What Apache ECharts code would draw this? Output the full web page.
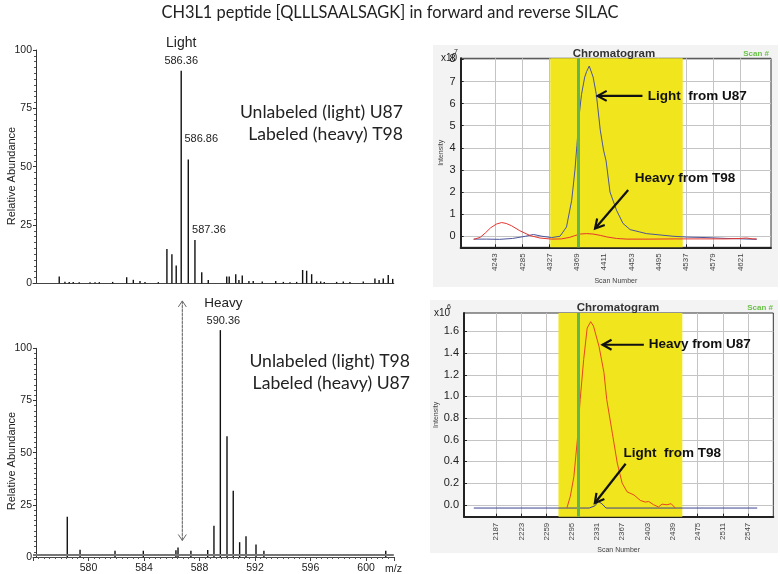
<!DOCTYPE html>
<html><head><meta charset="utf-8">
<script src="https://cdn.jsdelivr.net/npm/echarts@6/dist/echarts.min.js"></script>
<style>html,body{margin:0;padding:0;background:#fff}#c{width:780px;height:574px}</style>
</head><body><div id="c"></div>
<script>
// ---------------- data ----------------
const titleText = 'CH3L1 peptide [QLLLSAALSAGK] in forward and reverse SILAC';
// forward SILAC spectrum (top-left)
const lightMz = [577.89,578.30,578.61,578.90,579.33,580.11,580.47,580.78,581.74,582.75,583.23,583.71,584.07,585.03,585.65,586.01,586.32,586.68,587.19,587.67,588.16,588.63,589.96,590.14,590.61,590.84,591.08,591.56,591.87,592.52,593.49,594.04,594.52,595.00,595.43,595.72,596.08,596.44,596.73,596.99,597.88,598.36,598.84,599.80,600.64,600.94,601.24,601.60,601.92];
const lightAb = [2.9,0.7,0.6,0.6,0.5,0.5,0.5,0.5,0.6,2.6,1.5,1.0,0.6,0.5,14.7,12.4,7.6,91.1,53.1,18.6,4.7,1.4,2.9,2.9,3.9,1.4,3.3,1.0,1.0,0.8,1.0,0.6,0.5,0.6,5.7,5.4,3.9,0.8,0.8,0.6,0.6,0.8,0.6,0.8,2.1,1.4,2.1,3.6,1.9];
const lightLabelMz = [586.68, 587.19, 587.67];
const lightLabelText = ['586.36', '586.86', '587.36'];
// reverse SILAC spectrum (bottom-left)
const heavyMz = [578.47,579.39,581.91,583.95,586.30,586.45,587.38,588.59,589.04,589.50,589.98,590.43,590.89,591.35,592.07,592.64,601.42];
const heavyAb = [19.3,3.5,3.0,3.0,3.2,4.6,3.0,3.3,15.0,108.7,57.9,31.7,7.1,10.0,6.0,3.0,3.0];
const heavyLabelMz = [589.50];
const heavyLabelText = ['590.36'];
const heavyBaseline = 1.2;
const lightPeakArrowMz = 586.76;
const mzTicks = [580, 584, 588, 592, 596, 600];
const abundTicks = [0, 25, 50, 75, 100];
// chromatogram top-right (x10^7)
const topLightScan = [4210,4230,4250,4270,4290,4302,4315,4330,4343,4353,4361,4366,4369,4373,4376,4381,4384,4388,4390,4394,4399,4405,4410,4414,4420,4430,4440,4451,4465,4476,4500,4517,4540,4568,4600,4625,4646];
const topLightInt = [-0.13,-0.13,-0.14,-0.1,0.0,0.08,0.0,-0.06,0.0,0.42,1.63,3.0,4.1,5.6,6.4,7.2,7.45,7.7,7.73,7.2,6.4,4.8,3.9,3.4,2.0,1.18,0.58,0.3,0.2,0.12,0.05,0.0,-0.04,-0.06,-0.1,-0.12,-0.14];
const topHeavyScan = [4210,4220,4228,4236,4245,4253,4260,4268,4281,4297,4312,4330,4345,4358,4365,4374,4384,4394,4405,4415,4430,4446,4480,4520,4560,4600,4620,4630,4640,4646];
const topHeavyInt = [-0.14,-0.05,0.15,0.38,0.55,0.62,0.58,0.48,0.25,0.03,-0.08,-0.13,-0.12,-0.05,0.02,0.1,0.12,0.1,0.04,-0.03,-0.1,-0.13,-0.13,-0.12,-0.12,-0.12,-0.1,-0.08,-0.12,-0.12];
const topScanTicks = [4243,4285,4327,4369,4411,4453,4495,4537,4579,4621];
const topIntTicks = [0,1,2,3,4,5,6,7,8];
const topBand = [4328, 4532];
const topMarker = 4371.5;
// chromatogram bottom-right (x10^6)
const botHeavyScan = [2288,2293,2298,2303,2307,2312,2317,2322,2326,2334,2341,2345,2353,2360,2367,2374,2384,2393,2400,2405,2412,2419,2424,2431,2437,2443];
const botHeavyInt = [-0.03,0.08,0.26,0.6,0.97,1.34,1.63,1.69,1.65,1.46,1.22,0.97,0.66,0.385,0.2,0.12,0.09,0.04,0.025,0.03,0.0,-0.02,0.006,0.0,0.01,-0.03];
const botLightScan = [2155,2320,2328,2333,2338,2344,2560];
const botLightInt = [-0.03,-0.03,-0.01,0.03,0.01,-0.03,-0.03];
const botScanTicks = [2187,2223,2259,2295,2331,2367,2403,2439,2475,2511,2547];
const botIntTicks = [0,0.2,0.4,0.6,0.8,1.0,1.2,1.4,1.6];
const botBand = [2276, 2453];
const botMarker = 2304;

// ---------------- chart ----------------
const AF = '"Liberation Sans", Arial, sans-serif';
const CF = 'Lato, "Open Sans", sans-serif';
const chart = echarts.init(document.getElementById('c'), null, {renderer: 'canvas', width: 780, height: 574});
const pairs = (xs, ys) => xs.map((x, i) => [x, ys[i]]);

const lightLabelStyles = [
  {distance: 3, offset: [0, 0], formatter: '{a|Light}\n{b|' + lightLabelText[0] + '}'},
  {distance: 3, offset: [13, -12], formatter: lightLabelText[1]},
  {distance: 3, offset: [14, -1], formatter: lightLabelText[2]}
];
const labelRich = {
  a: {fontSize: 14, lineHeight: 21, fontFamily: AF, color: '#222'},
  b: {fontSize: 11, lineHeight: 14, fontFamily: AF, color: '#222'}
};
const lightData = lightMz.map((m, i) => {
  const item = {value: [m, lightAb[i]]};
  const k = lightLabelMz.indexOf(m);
  if (k >= 0) {
    item.label = Object.assign({show: true, position: 'top', fontSize: 11, fontFamily: AF, color: '#222', rich: labelRich}, lightLabelStyles[k]);
  }
  return item;
});
const heavyData = heavyMz.map((m, i) => {
  const item = {value: [m, heavyAb[i]]};
  const k = heavyLabelMz.indexOf(m);
  if (k >= 0) {
    item.label = {show: true, position: 'top', distance: 2, offset: [3, 0], formatter: '{a|Heavy}\n{b|' + heavyLabelText[k] + '}',
      rich: {a: {fontSize: 13.5, lineHeight: 22, fontFamily: AF, color: '#222'}, b: {fontSize: 11, lineHeight: 14, fontFamily: AF, color: '#222'}}};
  }
  return item;
});

function specY(gi) {
  return {
    gridIndex: gi, type: 'value', min: 0, max: 100, interval: 25, offset: -3,
    axisLine: {show: true, lineStyle: {color: '#333', width: 1}},
    axisTick: {show: true, length: 3, lineStyle: {color: '#333'}},
    minorTick: {show: true, splitNumber: 10, length: 2, lineStyle: {color: '#555'}},
    axisLabel: {fontSize: 10.5, color: '#222', fontFamily: AF, margin: 4},
    splitLine: {show: false}
  };
}
function chromX(gi, min, max, ticks) {
  return {
    gridIndex: gi, type: 'value', min: min, max: max,
    axisLine: {show: true, onZero: false, lineStyle: {color: '#222', width: 2}},
    axisTick: {show: true, inside: true, length: 3, customValues: ticks, lineStyle: {color: '#222'}},
    axisLabel: {customValues: ticks, rotate: 90, fontSize: 8, color: '#444', fontFamily: AF, margin: 6, formatter: v => String(Math.round(v))},
    splitLine: {show: true, lineStyle: {color: '#c4c4c4', width: 1}},
    name: 'Scan Number', nameLocation: 'middle', nameGap: 30,
    nameTextStyle: {fontSize: 7, color: '#444', fontFamily: AF}
  };
}
function chromY(gi, min, max, ticks, fmt) {
  return {
    gridIndex: gi, type: 'value', min: min, max: max,
    axisLine: {show: true, onZero: false, lineStyle: {color: '#222', width: 2}},
    axisTick: {show: true, inside: true, length: 3, customValues: ticks, lineStyle: {color: '#222'}},
    axisLabel: {customValues: ticks, fontSize: 11, color: '#222', fontFamily: AF, margin: 5, formatter: fmt},
    splitLine: {show: true, lineStyle: {color: '#c4c4c4', width: 1}},
    name: 'Intensity', nameLocation: 'middle', nameGap: 16,
    nameTextStyle: {fontSize: 7, color: '#444', fontFamily: AF}
  };
}
function band(range, marker) {
  return {
    markArea: {silent: true, itemStyle: {color: '#f1e51d', opacity: 1}, label: {show: false},
      data: [[{xAxis: range[0]}, {xAxis: range[1]}]]},
    markLine: {silent: true, symbol: 'none', label: {show: false},
      lineStyle: {color: '#62b74c', width: 3, type: 'solid'}, data: [{xAxis: marker}]}
  };
}

const option = {
  animation: false,
  backgroundColor: '#fff',
  grid: [
    {left: 33, top: 50, width: 360.8, height: 233.3},
    {left: 33, top: 348.3, width: 360.8, height: 210},
    {left: 460.7, top: 58.3, width: 310.3, height: 189, show: true, backgroundColor: '#fff', borderColor: '#333', borderWidth: 1},
    {left: 464, top: 313, width: 309.3, height: 203.7, show: true, backgroundColor: '#fff', borderColor: '#333', borderWidth: 1}
  ],
  xAxis: [
    {gridIndex: 0, type: 'value', min: 576, max: 602,
      axisLine: {show: true, lineStyle: {color: '#444'}}, axisTick: {show: false}, axisLabel: {show: false}, splitLine: {show: false}},
    {gridIndex: 1, type: 'value', min: 576, max: 602, interval: 4,
      axisLine: {show: true, lineStyle: {color: '#444'}},
      axisTick: {show: true, length: 4, lineStyle: {color: '#444'}},
      minorTick: {show: true, splitNumber: 10, length: 2, lineStyle: {color: '#555'}},
      axisLabel: {fontSize: 10.5, color: '#222', fontFamily: AF, margin: 6, showMinLabel: false, showMaxLabel: false},
      splitLine: {show: false}},
    chromX(2, 4190, 4668, topScanTicks),
    chromX(3, 2141, 2583, botScanTicks)
  ],
  yAxis: [
    specY(0), specY(1),
    chromY(2, -0.5, 8.05, topIntTicks, v => String(v)),
    chromY(3, -0.11, 1.77, botIntTicks, v => v.toFixed(1))
  ],
  series: [
    {type: 'bar', xAxisIndex: 0, yAxisIndex: 0, barWidth: 1.4, itemStyle: {color: '#111'}, data: lightData, clip: false},
    {type: 'bar', xAxisIndex: 1, yAxisIndex: 1, barWidth: 1.4, itemStyle: {color: '#111'}, data: heavyData, clip: false,
      markLine: {silent: true, symbol: 'none', label: {show: false}, lineStyle: {color: '#777', width: 2, type: 'solid'}, data: [{yAxis: heavyBaseline}]}},
    Object.assign({type: 'line', xAxisIndex: 2, yAxisIndex: 2, showSymbol: false, symbol: 'none', z: 3,
      lineStyle: {color: '#4b559a', width: 1}, data: pairs(topLightScan, topLightInt)}, band(topBand, topMarker)),
    {type: 'line', xAxisIndex: 2, yAxisIndex: 2, showSymbol: false, symbol: 'none', z: 4,
      lineStyle: {color: '#e5352f', width: 1}, data: pairs(topHeavyScan, topHeavyInt)},
    Object.assign({type: 'line', xAxisIndex: 3, yAxisIndex: 3, showSymbol: false, symbol: 'none', z: 3,
      lineStyle: {color: '#3b4390', width: 1}, data: pairs(botLightScan, botLightInt)}, band(botBand, botMarker)),
    {type: 'line', xAxisIndex: 3, yAxisIndex: 3, showSymbol: false, symbol: 'none', z: 4,
      lineStyle: {color: '#e8461f', width: 1}, data: pairs(botHeavyScan, botHeavyInt)}
  ]
};
chart.setOption(option);

// ---------------- annotations (positions derived from the axes) ----------------
const P = (g, x, y) => chart.convertToPixel({gridIndex: g}, [x, y]);
function arrow(a, b, o) {
  const ang = Math.atan2(b[1] - a[1], b[0] - a[0]);
  const L = o.head || 9, W = o.headW || 5;
  const bx = b[0] - L * Math.cos(ang), by = b[1] - L * Math.sin(ang);
  const l = [bx + W * Math.sin(ang), by - W * Math.cos(ang)];
  const r = [bx - W * Math.sin(ang), by + W * Math.cos(ang)];
  return [
    {type: 'line', z: 50, shape: {x1: a[0], y1: a[1], x2: b[0], y2: b[1]}, style: {stroke: o.color, lineWidth: o.width, lineDash: o.dash || null}},
    {type: 'polyline', z: 50, shape: {points: [l, b, r]}, style: {stroke: o.color, lineWidth: o.headWidth || o.width, fill: null}}
  ];
}
function txt(x, y, s, st, extra) {
  return Object.assign({type: 'text', z: 50, x: x, y: y, style: Object.assign({text: s, fill: '#222', font: '11px ' + AF, textAlign: 'left', textVerticalAlign: 'middle'}, st)}, extra || {});
}
const g = [];
// panel backgrounds for the chromatograms
g.push({type: 'rect', z: -5, shape: {x: 433, y: 45, width: 345, height: 242}, style: {fill: '#f3f3f3'}});
g.push({type: 'rect', z: -5, shape: {x: 430, y: 300, width: 348, height: 253}, style: {fill: '#f3f3f3'}});
// title
g.push(txt(390, 13, titleText, {font: '16.4px ' + CF, textAlign: 'center', fill: '#222'}));
// left panel texts
g.push(txt(12, 176, 'Relative Abundance', {font: '11px ' + AF, textAlign: 'center'}, {rotation: Math.PI / 2}));
g.push(txt(12, 461, 'Relative Abundance', {font: '11px ' + AF, textAlign: 'center'}, {rotation: Math.PI / 2}));
g.push(txt(403, 112, 'Unlabeled (light) U87', {font: '17.6px ' + CF, textAlign: 'right', fill: '#222'}));
g.push(txt(403, 134, 'Labeled (heavy) T98', {font: '17.6px ' + CF, textAlign: 'right', fill: '#222'}));
g.push(txt(410, 361, 'Unlabeled (light) T98', {font: '17.6px ' + CF, textAlign: 'right', fill: '#222'}));
g.push(txt(410, 383, 'Labeled (heavy) U87', {font: '17.6px ' + CF, textAlign: 'right', fill: '#222'}));
g.push(txt(385, 569, 'm/z', {font: '10.5px ' + AF}));
// dotted double arrow in bottom-left panel
(function () {
  const a = P(1, lightPeakArrowMz, 122.7), b = P(1, lightPeakArrowMz, 7.9);
  g.push(...arrow(a, b, {color: '#666', width: 1, dash: [2, 2], head: 6, headW: 4}));
  g.push(...arrow(b, a, {color: '#666', width: 1, dash: [2, 2], head: 6, headW: 4}));
})();
// chromatogram headers
function header(cx, y, sx, x10x, sup) {
  g.push(txt(cx, y, 'Chromatogram', {font: 'bold 11.5px ' + AF, textAlign: 'center', fill: '#333'}));
  g.push(txt(sx, y, 'Scan #', {font: 'bold 8px ' + AF, textAlign: 'right', fill: '#6cc04a'}));
  g.push(txt(x10x, y + 5, 'x10', {font: '10px ' + AF, fill: '#222'}));
  g.push(txt(x10x + 13, y - 1, sup, {font: '7px ' + AF, fill: '#222'}));
}
header(614, 53.5, 769, 441, '7');
header(618, 308, 773, 434, '6');
// top chromatogram annotations
const ta = P(2, 4478, 6.35);
g.push(txt(ta[0], ta[1], 'Light  from U87', {font: 'bold 13.5px ' + AF, fill: '#111'}));
g.push(...arrow(P(2, 4470, 6.35), P(2, 4401, 6.35), {color: '#111', width: 2.2, head: 9, headW: 5}));
const tb = P(2, 4458, 2.62);
g.push(txt(tb[0], tb[1], 'Heavy from T98', {font: 'bold 13.5px ' + AF, fill: '#111'}));
g.push(...arrow(P(2, 4448, 2.09), P(2, 4397, 0.35), {color: '#111', width: 2.2, head: 9, headW: 5}));
// bottom chromatogram annotations
const tc = P(3, 2405, 1.477);
g.push(txt(tc[0], tc[1], 'Heavy from U87', {font: 'bold 13.5px ' + AF, fill: '#111'}));
g.push(...arrow(P(3, 2398, 1.477), P(3, 2339, 1.477), {color: '#111', width: 2.2, head: 9, headW: 5}));
const td = P(3, 2369, 0.477);
g.push(txt(td[0], td[1], 'Light  from T98', {font: 'bold 13.5px ' + AF, fill: '#111'}));
g.push(...arrow(P(3, 2372, 0.379), P(3, 2328, 0.016), {color: '#111', width: 2.2, head: 9, headW: 5}));

chart.setOption({graphic: {elements: g}});
</script>
</body></html>
